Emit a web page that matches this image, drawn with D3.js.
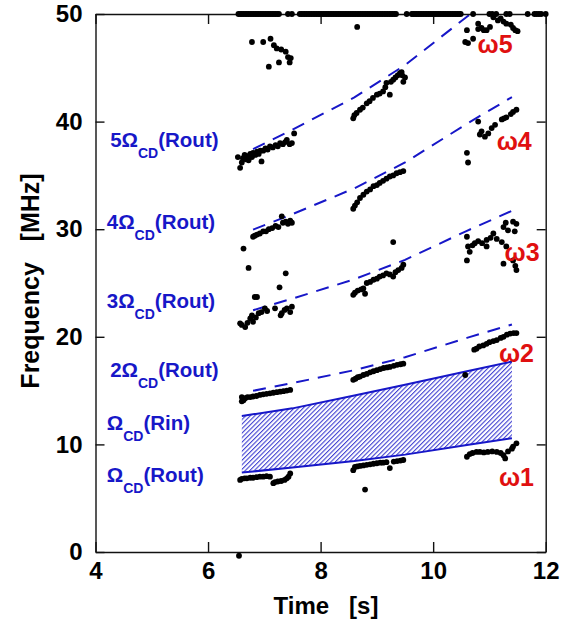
<!DOCTYPE html>
<html>
<head>
<meta charset="utf-8">
<script src="https://cdn.jsdelivr.net/npm/d3@7"></script>
<style>
  body { margin: 0; background: white; }
  svg { display: block; font-family: "Liberation Sans", Arial, sans-serif; font-weight: bold; }
</style>
</head>
<body>
<svg width="570" height="628"></svg>
<script>
// ticks
var xTicks = [4, 6, 8, 10, 12];
var yTicks = [0, 10, 20, 30, 40, 50];

// Omega_CD(Rout) and Omega_CD(Rin) curves [time, MHz]
var routCurve = [[6.6, 7.38], [6.8, 7.49], [7.5, 7.85], [8.6, 8.45], [9.5, 9.05], [10.6, 9.95], [11.4, 10.57]];
var rinCurve = [[6.6, 12.64], [7.5, 13.35], [8.6, 14.55], [9.5, 15.55], [10.6, 16.8], [11.4, 17.7]];
var harmonics = [2, 3, 4, 5];
var dashStart = 6.8;

// points stuck at the top of the range (50 MHz)
var topRow = [6.54, 6.57, 6.6, 6.63, 6.66, 6.69, 6.72, 6.75, 6.78, 6.81, 6.84, 6.87, 6.9, 6.93, 6.96, 6.99, 7.02, 7.05, 7.08, 7.11, 7.14, 7.17, 7.2, 7.23, 7.26,
  7.42, 7.49,
  7.63, 7.66, 7.69, 7.72, 7.75, 7.78, 7.81, 7.84, 7.87, 7.9, 7.93, 7.96, 7.99, 8.02, 8.05, 8.08, 8.11, 8.14, 8.17, 8.2, 8.23, 8.26, 8.29, 8.32, 8.35, 8.38, 8.41, 8.44, 8.47, 8.5,
  8.53, 8.56, 8.59, 8.62, 8.65, 8.68, 8.71, 8.74, 8.77, 8.8, 8.83, 8.86, 8.89, 8.92, 8.95, 8.98, 9.01, 9.04, 9.07, 9.1, 9.13, 9.16, 9.19, 9.22, 9.25, 9.28, 9.31, 9.34,
  9.53,
  9.62, 9.65, 9.68, 9.71, 9.74, 9.77, 9.8, 9.83, 9.86, 9.89, 9.92, 9.95, 9.98, 10.01, 10.04, 10.07, 10.1, 10.13, 10.16, 10.19, 10.22, 10.25, 10.28, 10.31, 10.34, 10.37, 10.4, 10.43, 10.46, 10.49,
  10.71, 11.0, 11.05, 11.12, 11.3, 11.36, 11.68, 11.8, 11.84, 11.88, 11.92, 12.0];

var omega5 = [[6.78, 47.4], [6.98, 47.4], [7.11, 47.7], [7.17, 47.1], [7.22, 46.8], [7.3, 46.7], [7.38, 46.5], [7.42, 46.0], [7.47, 45.9], [7.45, 45.5], [7.26, 45.5], [7.08, 45.1],
  [8.65, 48.8],
  [10.6, 48.5], [10.57, 47.4], [10.62, 47.3], [10.71, 47.7], [10.8, 49.1], [10.8, 48.6], [10.86, 48.7], [10.9, 48.5], [10.95, 48.5], [11.01, 48.8], [11.07, 49.7],
  [11.15, 49.4], [11.2, 49.6], [11.25, 49.3], [11.3, 49.1], [11.38, 49.0], [11.42, 48.7], [11.46, 48.5], [11.5, 48.4]];

var omega4 = [[6.53, 36.7], [6.57, 35.7], [6.6, 36.2], [6.62, 36.6], [6.65, 36.9], [6.67, 36.5], [6.7, 36.8], [6.72, 36.4], [6.75, 37.0], [6.78, 36.7], [6.8, 37.1], [6.84, 36.9],
  [6.87, 37.2], [6.9, 37.0], [6.93, 37.3], [6.95, 36.3], [6.98, 37.3], [7.02, 37.5], [7.06, 37.4], [7.1, 37.7], [7.15, 37.6], [7.2, 37.8], [7.24, 37.7], [7.28, 38.0],
  [7.33, 37.9], [7.37, 38.1], [7.4, 38.3], [7.45, 37.9], [7.49, 38.0], [7.53, 38.9],
  [8.58, 40.3], [8.6, 40.6], [8.64, 40.8], [8.7, 41.1], [8.75, 41.3], [8.82, 41.7], [8.87, 41.9], [8.93, 42.2], [9.0, 42.5], [9.05, 42.6], [9.11, 42.8], [9.15, 43.2],
  [9.17, 43.6], [9.23, 42.5], [9.25, 43.7], [9.29, 43.9], [9.33, 44.1], [9.37, 44.3], [9.41, 44.5], [9.44, 44.6], [9.47, 43.7], [9.5, 44.1], [9.45, 44.3],
  [10.6, 37.1], [10.62, 36.2], [10.8, 40.0], [10.83, 38.8], [10.86, 39.1], [10.92, 38.6], [10.98, 38.9], [11.04, 39.4], [11.1, 39.7], [11.22, 40.2], [11.26, 40.3],
  [11.3, 40.4], [11.38, 40.7], [11.42, 40.9], [11.48, 41.1]];

var omega3 = [[6.63, 28.2], [6.72, 26.4], [6.8, 29.3], [6.83, 29.4], [6.87, 29.5], [6.92, 29.6], [6.98, 29.8], [7.03, 29.8], [7.08, 30.0], [7.14, 30.1], [7.2, 30.3],
  [7.25, 30.2], [7.31, 31.2], [7.33, 30.6], [7.38, 30.7], [7.42, 30.5], [7.46, 30.8], [7.49, 30.6], [7.38, 25.9],
  [8.58, 31.9], [8.61, 32.2], [8.65, 32.5], [8.7, 32.9], [8.76, 33.2], [8.82, 33.5], [8.88, 33.7], [8.94, 34.0], [9.0, 34.1], [9.05, 34.3], [9.11, 34.5], [9.17, 34.7],
  [9.23, 34.9], [9.29, 35.0], [9.35, 35.2], [9.41, 35.3], [9.47, 35.4],
  [10.6, 29.3], [10.62, 28.4], [10.6, 27.1], [10.65, 27.9], [10.7, 28.5], [10.74, 28.7], [10.8, 28.9], [10.87, 28.7], [10.95, 29.0], [10.95, 28.4], [11.02, 29.2],
  [11.07, 29.6], [11.13, 29.1], [11.22, 28.8], [11.25, 30.2], [11.3, 28.4], [11.33, 29.9], [11.29, 30.6], [11.42, 30.7], [11.48, 30.5], [11.45, 29.8],
  [11.25, 26.8], [11.42, 27.1], [11.46, 26.6], [11.48, 26.2]];

var omega3b = [[6.57, 21.25], [6.6, 21.1], [6.66, 20.9], [6.7, 21.3], [6.75, 21.7], [6.78, 22.0], [6.8, 21.4], [6.85, 21.8], [6.9, 22.2], [6.95, 22.3], [7.01, 22.65],
  [7.05, 22.4], [7.19, 22.65], [7.29, 22.0], [7.31, 22.2], [7.36, 22.5], [7.4, 22.65], [7.46, 22.3], [7.49, 22.8], [6.83, 23.7], [6.87, 23.7], [7.27, 24.6],
  [8.58, 23.9], [8.61, 24.1], [8.66, 24.3], [8.72, 24.4], [8.76, 24.5], [8.79, 24.0], [8.82, 25.0], [8.88, 25.1], [8.94, 25.3], [9.0, 25.4], [9.05, 25.6],
  [9.11, 25.7], [9.17, 25.9], [9.23, 25.8], [9.29, 25.6], [9.33, 26.0], [9.38, 26.2], [9.44, 26.4], [9.47, 26.7], [9.29, 28.8]];

var omega2 = [[6.6, 14.0], [6.6, 14.4], [6.63, 14.1], [6.66, 14.3], [6.7, 14.4], [6.75, 14.4], [6.8, 14.45], [6.86, 14.5], [6.92, 14.6], [6.98, 14.65], [7.04, 14.7],
  [7.1, 14.75], [7.16, 14.8], [7.22, 14.85], [7.28, 14.9], [7.34, 14.95], [7.4, 15.0], [7.46, 15.06],
  [8.58, 16.0], [8.62, 16.1], [8.66, 16.25], [8.7, 16.3], [8.76, 16.45], [8.82, 16.55], [8.88, 16.7], [8.94, 16.8], [9.0, 16.9], [9.06, 17.0], [9.12, 17.1],
  [9.18, 17.15], [9.23, 17.2], [9.3, 17.3], [9.36, 17.4], [9.42, 17.45], [9.47, 17.5],
  [10.57, 16.45], [10.73, 18.8], [10.77, 18.9], [10.82, 19.1], [10.89, 19.2], [10.95, 19.35], [11.0, 19.5], [11.07, 19.6], [11.13, 19.7], [11.2, 19.9], [11.25, 20.0],
  [11.31, 20.2], [11.37, 20.3], [11.43, 20.35], [11.48, 20.35]];

var omega1 = [[6.57, 6.7], [6.6, 6.8], [6.65, 6.85], [6.69, 6.85], [6.75, 6.9], [6.8, 6.9], [6.86, 6.95], [6.92, 7.0], [6.98, 7.0], [7.04, 7.05], [7.1, 7.0],
  [7.16, 6.4], [7.19, 6.5], [7.24, 6.55], [7.3, 6.6], [7.36, 6.7], [7.4, 6.85], [7.46, 7.3], [7.43, 7.0],
  [8.58, 7.6], [8.61, 7.9], [8.65, 7.95], [8.7, 8.0], [8.76, 8.05], [8.82, 8.1], [8.88, 8.15], [8.94, 8.2], [9.0, 8.25], [9.06, 8.3], [9.11, 8.3], [9.17, 8.35],
  [9.23, 7.8], [9.3, 8.4], [9.36, 8.45], [9.42, 8.5], [9.47, 8.55], [8.79, 5.8],
  [10.6, 8.85], [10.65, 9.1], [10.7, 9.2], [10.77, 9.3], [10.83, 9.3], [10.9, 9.25], [10.97, 9.3], [11.05, 9.35], [11.13, 9.3], [11.2, 9.2], [11.25, 9.0],
  [11.28, 8.7], [11.33, 9.35], [11.4, 9.6], [11.42, 9.8], [11.48, 10.1],
  [6.55, -0.35]];

// labels
var blueLabels = [
  {pre: "5\u03A9", post: "(Rout)", t: 4.26, f: 37.6},
  {pre: "4\u03A9", post: "(Rout)", t: 4.2, f: 30.0},
  {pre: "3\u03A9", post: "(Rout)", t: 4.2, f: 22.7},
  {pre: "2\u03A9", post: "(Rout)", t: 4.26, f: 16.3},
  {pre: "\u03A9", post: "(Rin)", t: 4.2, f: 11.3},
  {pre: "\u03A9", post: "(Rout)", t: 4.2, f: 6.5}
];
var redLabels = [
  {text: "\u03C95", t: 10.79, f: 46.4},
  {text: "\u03C94", t: 11.13, f: 37.4},
  {text: "\u03C93", t: 11.27, f: 27.0},
  {text: "\u03C92", t: 11.17, f: 17.65},
  {text: "\u03C91", t: 11.17, f: 6.15}
];

var blue = "#1717c8";
var red = "#e01010";

var svg = d3.select("svg");
var plotLeft = 95.5, plotRight = 545.7, plotTop = 14, plotBottom = 552;

var x = d3.scaleLinear().domain([4, 12]).range([plotLeft, plotRight]);
var y = d3.scaleLinear().domain([0, 50]).range([plotBottom, plotTop]);

var defs = svg.append("defs");
defs.append("clipPath").attr("id", "plotClip")
  .append("rect")
  .attr("x", plotLeft).attr("y", plotTop)
  .attr("width", plotRight - plotLeft).attr("height", plotBottom - plotTop);

var hatch = defs.append("pattern")
  .attr("id", "hatch")
  .attr("patternUnits", "userSpaceOnUse")
  .attr("width", 3.2).attr("height", 3.2)
  .attr("patternTransform", "rotate(45)");
hatch.append("line")
  .attr("x1", 0.6).attr("y1", 0).attr("x2", 0.6).attr("y2", 3.2)
  .style("stroke", blue)
  .style("stroke-width", 0.9);

//Banda Rin - Rout
var band = d3.area()
  .x(function(d) { return x(d[0]); })
  .y0(function(d) { return y(d[1]); })
  .y1(function(d) { return y(d[2]); });
var bandData = routCurve.filter(function(d) { return d[0] != dashStart; })
  .map(function(d, i) { return [d[0], d[1], rinCurve[i][1]]; });

svg.append("path")
  .attr("d", band(bandData))
  .attr("fill", "url(#hatch)");

var line = d3.line()
  .x(function(d) { return x(d[0]); })
  .y(function(d) { return y(d[1]); });

svg.append("path")
  .attr("d", line(bandData.map(function(d) { return [d[0], d[1]]; })))
  .attr("fill", "none")
  .style("stroke", blue)
  .style("stroke-width", 2);
svg.append("path")
  .attr("d", line(rinCurve))
  .attr("fill", "none")
  .style("stroke", blue)
  .style("stroke-width", 2);

//Armoniche tratteggiate
var dashed = svg.append("g").attr("clip-path", "url(#plotClip)");
harmonics.forEach(function(n) {
  var pts = routCurve.filter(function(d) { return d[0] >= dashStart; })
    .map(function(d) { return [d[0], d[1] * n]; });
  dashed.append("path")
    .attr("d", line(pts))
    .attr("fill", "none")
    .style("stroke", blue)
    .style("stroke-width", 2)
    .style("stroke-dasharray", "13,9");
});

//Assi
var axes = svg.append("g");
axes.append("g")
  .attr("transform", "translate(0," + plotBottom + ")")
  .call(d3.axisBottom(x).tickValues(xTicks).tickSizeInner(-10).tickSizeOuter(0).tickPadding(10).tickFormat(d3.format("d")));
axes.append("g")
  .attr("transform", "translate(0," + plotTop + ")")
  .call(d3.axisTop(x).tickValues(xTicks).tickSizeInner(-10).tickSizeOuter(0).tickFormat(""));
axes.append("g")
  .attr("transform", "translate(" + plotLeft + ",0)")
  .call(d3.axisLeft(y).tickValues(yTicks).tickSizeInner(-9).tickSizeOuter(0).tickPadding(13).tickFormat(d3.format("d")));
axes.append("g")
  .attr("transform", "translate(" + plotRight + ",0)")
  .call(d3.axisRight(y).tickValues(yTicks).tickSizeInner(-9).tickSizeOuter(0).tickFormat(""));
axes.selectAll(".domain, .tick line").style("stroke", "#111").style("stroke-width", 1.4);
axes.selectAll("text")
  .style("font-family", "'Liberation Sans', Arial, sans-serif")
  .style("font-weight", "bold")
  .style("font-size", "24px")
  .attr("fill", "black");

svg.append("text")
  .attr("x", 326).attr("y", 614)
  .attr("text-anchor", "middle")
  .style("font-size", "24px")
  .style("white-space", "pre")
  .text("Time   [s]");
svg.append("text")
  .attr("transform", "translate(39,281) rotate(-90)")
  .attr("text-anchor", "middle")
  .style("font-size", "25px")
  .style("white-space", "pre")
  .text("Frequency   [MHz]");

//Punti
var allPoints = topRow.map(function(t) { return [t, 50]; })
  .concat(omega5, omega4, omega3, omega3b, omega2, omega1);
svg.append("g").selectAll("circle")
  .data(allPoints)
  .enter().append("circle")
  .attr("cx", function(d) { return x(d[0]); })
  .attr("cy", function(d) { return y(d[1]); })
  .attr("r", 2.9)
  .attr("fill", "black");

//Etichette
var bl = svg.append("g").attr("fill", blue);
blueLabels.forEach(function(d) {
  var txt = bl.append("text")
    .attr("x", x(d.t)).attr("y", y(d.f))
    .style("font-size", "20.5px");
  txt.append("tspan").text(d.pre);
  txt.append("tspan").attr("dy", 11).style("font-size", "14px").text("CD");
  txt.append("tspan").attr("dy", -11).text(d.post);
});

svg.append("g").selectAll("text")
  .data(redLabels)
  .enter().append("text")
  .attr("x", function(d) { return x(d.t); })
  .attr("y", function(d) { return y(d.f); })
  .attr("fill", red)
  .style("font-size", "25px")
  .text(function(d) { return d.text; });
</script>
</body>
</html>
